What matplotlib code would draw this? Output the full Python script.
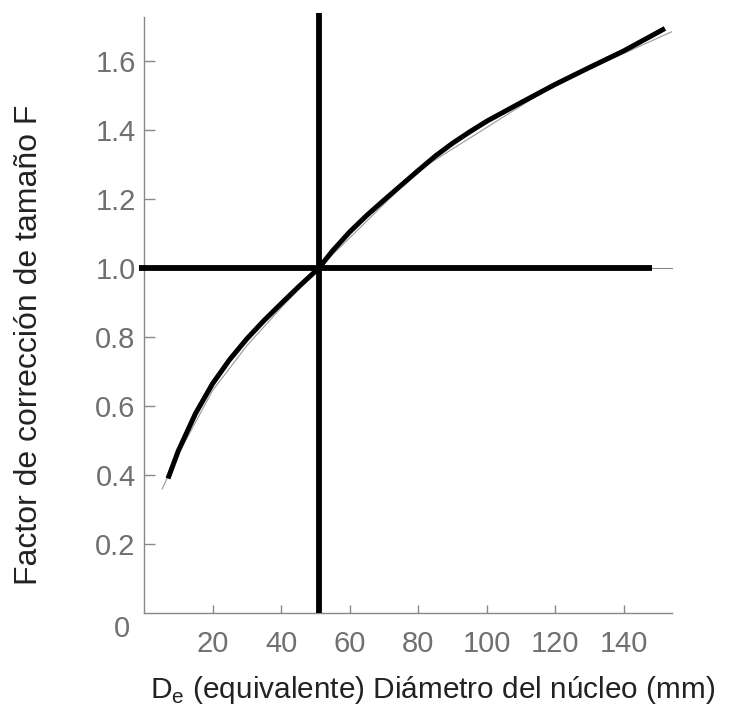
import matplotlib
matplotlib.use('Agg')
import matplotlib.pyplot as plt

plt.rcParams['font.family'] = ['Liberation Sans', 'DejaVu Sans']

# curve: De (mm) -> F
de = [7, 10, 15, 20, 25, 30, 35, 40, 45, 51, 55, 60, 65, 70, 75, 80, 85, 90, 95,
      100, 110, 120, 130, 140, 152]
F = [0.39, 0.47, 0.578, 0.665, 0.735, 0.795, 0.848, 0.897, 0.945, 1.0, 1.05,
     1.105, 1.153, 1.197, 1.24, 1.283, 1.325, 1.362, 1.395, 1.426, 1.48, 1.533,
     1.582, 1.63, 1.695]

# faint pencil trace under the main curve
de_thin = [5.3, 10, 20, 30, 40, 51, 80, 120, 155]
F_thin = [0.36, 0.46, 0.645, 0.775, 0.885, 1.0, 1.283, 1.533, 1.69]

x_ticks = [20, 40, 60, 80, 100, 120, 140]
y_ticks = [0.2, 0.4, 0.6, 0.8, 1.0, 1.2, 1.4, 1.6]
de_ref = 51
F_ref = 1.0

fig = plt.figure(figsize=(7.31, 7.11), dpi=100)
fig.patch.set_facecolor('white')
ax = fig.add_axes([0.197, 0.1378, 0.722, 0.844])

ax.plot(de_thin, F_thin, color='#999999', lw=0.8, zorder=2)
ax.plot(de, F, color='black', lw=3.6, solid_capstyle='butt',
        solid_joinstyle='round', zorder=3)

# reference cross lines
ax.plot([-1.6, 148.3], [F_ref, F_ref], color='black', lw=4.2,
        solid_capstyle='butt', clip_on=False, zorder=4)
ax.plot([148.3, 154], [F_ref, F_ref], color='#888888', lw=0.8, clip_on=False)
ax.axvline(de_ref, color='black', lw=4.2, zorder=4)

ax.set_xlim(0, 154)
ax.set_ylim(0, 1.74)
ax.spines['top'].set_visible(False)
ax.spines['right'].set_visible(False)
for s in ('left', 'bottom'):
    ax.spines[s].set_color('#888888')
    ax.spines[s].set_linewidth(1.0)
ax.spines['left'].set_bounds(0, 1.727)

ax.set_xticks(x_ticks)
ax.set_xticklabels([str(v) for v in x_ticks])
ax.set_yticks(y_ticks)
ax.set_yticklabels([f'{v:.1f}' for v in y_ticks])
ax.tick_params(axis='both', direction='in', colors='#888888', labelcolor='#707070',
               labelsize=21, width=1.0)
ax.tick_params(axis='y', length=8, pad=6)
ax.tick_params(axis='x', length=6, pad=12)
ax.text(-6.5, -0.045, '0', ha='center', va='center', fontsize=21, color='#707070')

fig.text(29 / 731, 1 - 345 / 711, 'Factor de corrección de tamaño F',
         rotation=90, ha='center', va='center', fontsize=23, color='#222222')
fig.text(433 / 731, 1 - 690 / 711, r'D$_\mathregular{e}$ (equivalente) Diámetro del núcleo (mm)',
         ha='center', va='center', fontsize=21.4, color='#222222')

plt.savefig('out.png', dpi=100, facecolor='white')
